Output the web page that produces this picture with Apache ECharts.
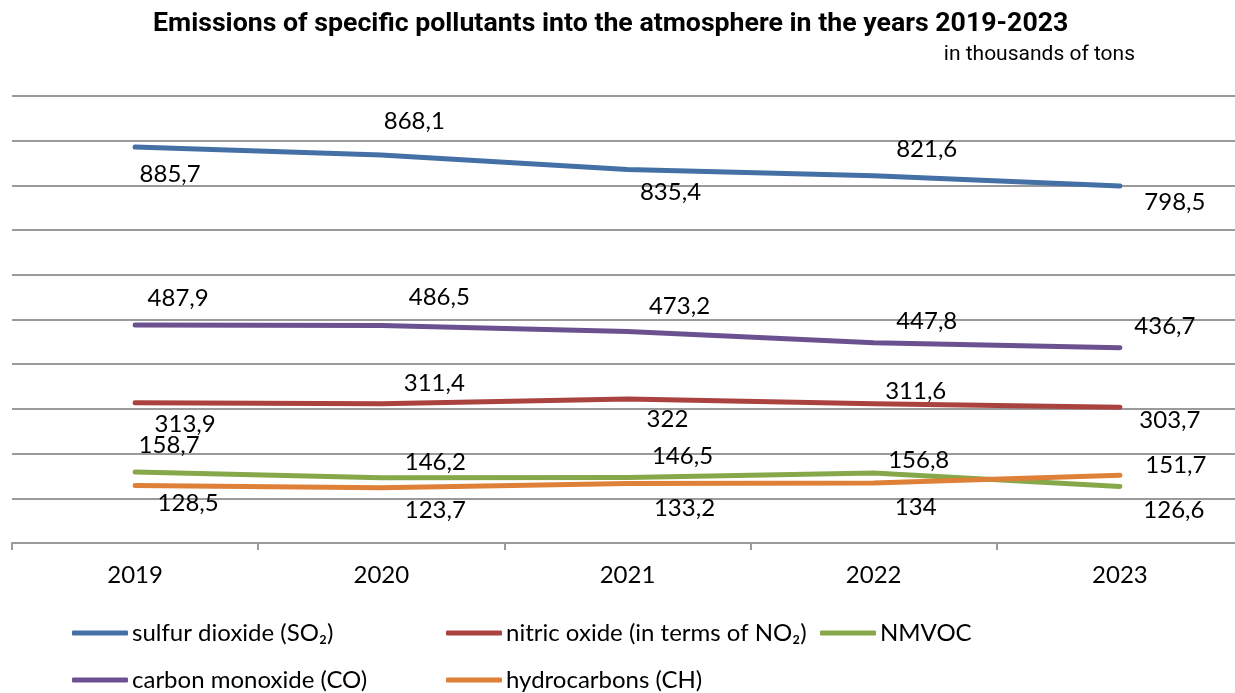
<html>
<head>
    <meta charset="utf-8">
    <script src="https://cdn.jsdelivr.net/npm/echarts@6/dist/echarts.min.js"></script>
    <style>
        body { margin: 0; background: #fff; overflow: hidden; }
        #chart { width: 1250px; height: 693px; }
    </style>
</head>
<body>
    <div id="chart"></div>
    <script>
        // data, in thousands of tons
        var years = ['2019', '2020', '2021', '2022', '2023'];
        var so2 = [885.7, 868.1, 835.4, 821.6, 798.5];
        var no2 = [313.9, 311.4, 322, 311.6, 303.7];
        var nmvoc = [158.7, 146.2, 146.5, 156.8, 126.6];
        var co = [487.9, 486.5, 473.2, 447.8, 436.7];
        var ch = [128.5, 123.7, 133.2, 134, 151.7];

        // label placement (pixel offsets from each point), kept apart from the values
        var so2Off = [[35, 27], [33, -34], [43, 23], [53, -26], [55, 16]];
        var no2Off = [[50, 22], [53, -21], [40, 20], [42, -12], [50, 13]];
        var nmvocOff = [[34, -27], [54, -15], [55, -21], [45, -13], [54, 24]];
        var coOff = [[43, -27], [58, -28], [52, -25], [53, -22], [45, -22]];
        var chOff = [[53, 18], [54, 23], [57, 25], [42, 24], [56, -10]];

        var FONT = 'Lato';

        function fmt(p) {
            return String(p.value).replace('.', ',');
        }

        function line(name, color, values, offsets) {
            return {
                name: name,
                type: 'line',
                data: values,
                symbol: 'circle',
                symbolSize: 2,
                itemStyle: { color: color },
                lineStyle: { width: 5, color: color, cap: 'round', join: 'round' },
                label: {
                    show: true,
                    position: 'inside',
                    formatter: fmt,
                    fontFamily: FONT,
                    fontSize: 24,
                    color: '#000'
                },
                labelLayout: function (params) {
                    var o = offsets[params.dataIndex];
                    return { dx: o[0], dy: o[1], hideOverlap: false };
                },
                emphasis: { disabled: true },
                animation: false
            };
        }

        function legendAt(name, left, top) {
            return {
                data: [name],
                left: left,
                top: top,
                padding: 0,
                icon: 'roundRect',
                itemWidth: 56,
                itemHeight: 5,
                itemGap: 0,
                selectedMode: false,
                textStyle: { fontFamily: FONT, fontSize: 24, color: '#000', padding: [0, 0, 0, -1] }
            };
        }

        var names = ['sulfur dioxide (SO\u2082)', 'nitric oxide (in terms of NO\u2082)', 'NMVOC',
            'carbon monoxide (CO)', 'hydrocarbons (CH)'];

        var chart = echarts.init(document.getElementById('chart'));
        chart.setOption({
            backgroundColor: '#fff',
            title: [{
                text: 'Emissions of specific pollutants into the atmosphere in the years 2019-2023',
                left: 153,
                top: 11,
                padding: 0,
                textStyle: { fontFamily: 'Roboto', fontWeight: 'bold', fontSize: 26.7, color: '#000' }
            }, {
                text: 'in thousands of tons',
                right: 115,
                top: 44,
                padding: 0,
                textStyle: { fontFamily: 'Roboto', fontWeight: 'normal', fontSize: 21, color: '#000' }
            }],
            legend: [
                legendAt(names[0], 72, 621),
                legendAt(names[1], 446, 621),
                legendAt(names[2], 820, 621),
                legendAt(names[3], 72, 668),
                legendAt(names[4], 446, 668)
            ],
            grid: { left: 12, top: 96, width: 1231, height: 447, containLabel: false },
            xAxis: {
                type: 'category',
                data: years,
                boundaryGap: true,
                axisLine: { show: true, lineStyle: { color: '#9a9a9a', width: 2 } },
                axisTick: { show: true, length: 7, lineStyle: { color: '#9a9a9a', width: 2 } },
                axisLabel: { fontFamily: FONT, fontSize: 24, color: '#000', margin: 20 }
            },
            yAxis: {
                type: 'value',
                min: 0,
                max: 1000,
                interval: 100,
                axisLine: { show: false },
                axisTick: { show: false },
                axisLabel: { show: false },
                splitLine: { show: true, lineStyle: { color: '#9a9a9a', width: 2 } }
            },
            series: [
                line(names[0], '#4470a5', so2, so2Off),
                line(names[1], '#aa423f', no2, no2Off),
                line(names[2], '#86a84a', nmvoc, nmvocOff),
                line(names[3], '#6b5190', co, coOff),
                line(names[4], '#df8038', ch, chOff)
            ]
        });
    </script>
</body>
</html>
